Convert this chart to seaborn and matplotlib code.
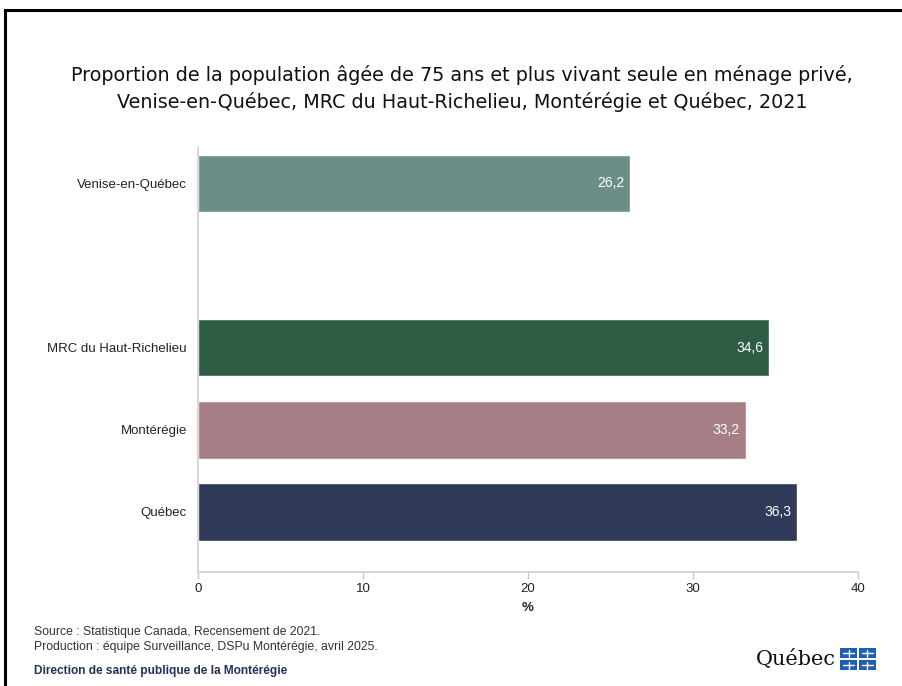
import pandas as pd
import matplotlib.pyplot as plt
import seaborn as sns
from matplotlib.patches import Rectangle

# donnees
territoires = ['Venise-en-Québec', ' ', 'MRC du Haut-Richelieu', 'Montérégie', 'Québec']
valeurs = [26.2, None, 34.6, 33.2, 36.3]
couleurs = ['#6b8f88', '#ffffff', '#2f5c45', '#a67f86', '#2f3a58']
xticks = [0, 10, 20, 30, 40]

df = pd.DataFrame({'territoire': territoires, 'valeur': valeurs})
df_bars = df.dropna()

sns.set_style('white')
plt.rcParams['font.family'] = ['Liberation Sans', 'DejaVu Sans']

fig = plt.figure(figsize=(9.02, 6.86), dpi=100)
ax = fig.add_axes([0.2195, 0.1662, 0.7317, 0.6181])

sns.barplot(data=df_bars, x='valeur', y='territoire', order=territoires,
            hue='territoire', hue_order=territoires,
            palette=dict(zip(territoires, couleurs)), legend=False,
            orient='h', width=0.7, saturation=1, ax=ax)

for i, v in enumerate(valeurs):
    if v is None:
        continue
    ax.text(v - 0.35, i, f'{v:.1f}'.replace('.', ','), ha='right', va='center',
            color='white', fontsize=10)

ax.set_xlim(0, 40)
ax.set_ylim(4.73, -0.43)
ax.set_xticks(xticks)
ax.set_xticklabels([str(t) for t in xticks], fontsize=9.5, color='#222222')
ax.tick_params(axis='x', bottom=True, length=5, color='#c8c8c8', width=1, pad=3)
ax.tick_params(axis='y', length=0, labelsize=9.5, labelcolor='#222222', pad=8)
ax.set_xlabel('%', fontsize=9.5, fontweight='bold', color='#222222', labelpad=5)
ax.set_ylabel('')
for s in ['top', 'right']:
    ax.spines[s].set_visible(False)
for s in ['left', 'bottom']:
    ax.spines[s].set_color('#d0d0d0')
    ax.spines[s].set_linewidth(1.2)

# titre
fig.text(0.512, 1 - 88.5 / 686,
         'Proportion de la population âgée de 75 ans et plus vivant seule en ménage privé,\n'
         'Venise-en-Québec, MRC du Haut-Richelieu, Montérégie et Québec, 2021',
         ha='center', va='center', fontsize=13.8, family=['DejaVu Sans'],
         color='#111111', linespacing=1.45)

# cadre
fig.patches.append(Rectangle((5 / 902, -0.05), 1.1, 1 - 10 / 686 + 0.05, transform=fig.transFigure,
                             fill=False, edgecolor='black', linewidth=2.2))

# notes
fig.text(34 / 902, 1 - 632 / 686, 'Source : Statistique Canada, Recensement de 2021.',
         fontsize=8.8, color='#333333', va='center')
fig.text(34 / 902, 1 - 647 / 686, 'Production : équipe Surveillance, DSPu Montérégie, avril 2025.',
         fontsize=8.8, color='#333333', va='center')
fig.text(34 / 902, 1 - 671 / 686, 'Direction de santé publique de la Montérégie',
         fontsize=8.6, color='#23305a', fontweight='bold', va='center')

# logo
fig.text(836 / 902, 1 - 659 / 686, 'Québec', ha='right', va='center', fontsize=15,
         family=['DejaVu Serif'], color='#111111')
for dx in (0, 1):
    for dy in (0, 1):
        x0 = (840 + dx * 19) / 902
        y0 = 1 - (648 + dy * 12 + 10) / 686
        w, h = 17 / 902, 10 / 686
        fig.patches.append(Rectangle((x0, y0), w, h, transform=fig.transFigure,
                                     facecolor='#1f5fad', edgecolor='none'))
        fig.lines.append(plt.Line2D([x0 + w / 2, x0 + w / 2], [y0 + 1.5 / 686, y0 + 8.5 / 686],
                                    transform=fig.transFigure, color='white', linewidth=1))
        fig.lines.append(plt.Line2D([x0 + 3 / 902, x0 + 14 / 902], [y0 + h / 2, y0 + h / 2],
                                    transform=fig.transFigure, color='white', linewidth=1))

plt.savefig('out.png', dpi=100)
